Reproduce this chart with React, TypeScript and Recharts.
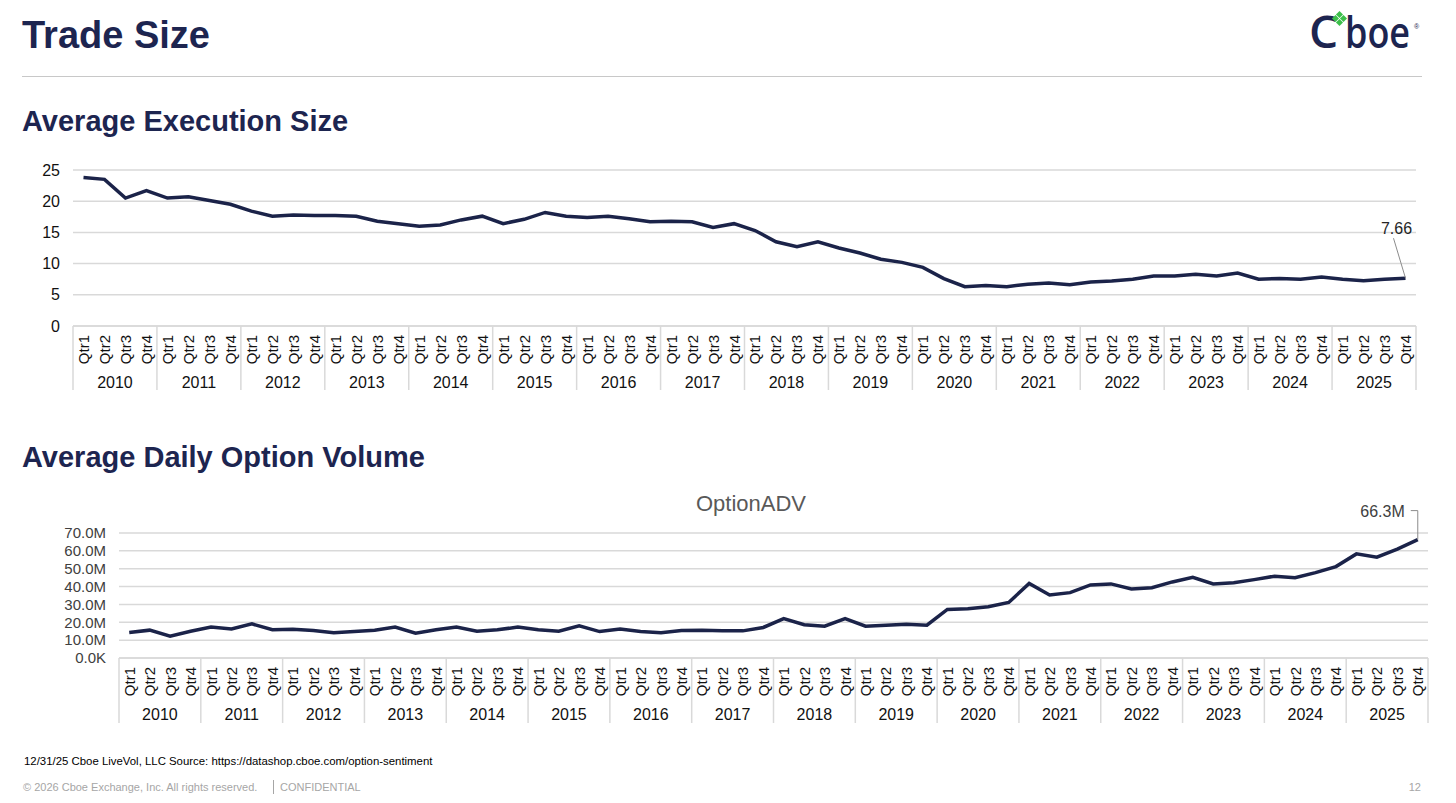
import React from "react";
import {
  LineChart,
  Line,
  XAxis,
  YAxis,
  CartesianGrid,
} from "recharts";

const quarters = ["Qtr1", "Qtr2", "Qtr3", "Qtr4"];
const years = [
  "2010", "2011", "2012", "2013", "2014", "2015", "2016", "2017",
  "2018", "2019", "2020", "2021", "2022", "2023", "2024", "2025",
];

// average execution size (contracts), one value per quarter
const execSize = [
  23.8, 23.5, 20.5, 21.7,
  20.5, 20.7, 20.1, 19.5,
  18.4, 17.6, 17.8, 17.7,
  17.7, 17.6, 16.8, 16.4,
  16.0, 16.2, 17.0, 17.6,
  16.4, 17.1, 18.2, 17.6,
  17.4, 17.6, 17.2, 16.7,
  16.8, 16.7, 15.8, 16.4,
  15.3, 13.5, 12.7, 13.5,
  12.5, 11.7, 10.7, 10.2,
  9.4, 7.6, 6.3, 6.5,
  6.3, 6.7, 6.9, 6.6,
  7.05, 7.2, 7.5, 8.0,
  8.0, 8.3, 8.0, 8.5,
  7.5, 7.6, 7.5, 7.85,
  7.5, 7.27, 7.5, 7.66,
];

// option ADV in millions of contracts
const optionAdv = [
  14.3, 15.6, 12.2, 15.0,
  17.3, 16.3, 19.1, 15.8,
  16.1, 15.4, 14.1, 14.8,
  15.6, 17.3, 13.9, 15.8,
  17.3, 15.0, 15.8, 17.3,
  15.8, 15.0, 18.0, 14.8,
  16.3, 14.8, 14.1, 15.4,
  15.6, 15.2, 15.2, 17.1,
  22.1, 18.6, 17.8, 22.1,
  17.8, 18.4, 18.9, 18.4,
  27.2, 27.6, 28.7, 31.1,
  41.8, 35.3, 36.6, 40.9,
  41.5, 38.6, 39.4, 42.6,
  45.2, 41.5, 42.2, 43.9,
  45.8, 45.0, 47.8, 51.2,
  58.3, 56.5, 61.0, 66.3,
];

const sizeTicks = [0, 5, 10, 15, 20, 25];
const advTicks = [0, 10, 20, 30, 40, 50, 60, 70];

const data = years.flatMap((yr, yi) =>
  quarters.map((q, qi) => ({
    key: `${yr} ${q}`,
    size: execSize[yi * 4 + qi],
    adv: optionAdv[yi * 4 + qi],
  }))
);

const FONT = "'Liberation Sans', Arial, sans-serif";
const NAVY = "#1d2550";
const LINE = "#1b2349";
const GRID = "#d9d9d9";
const N = data.length;

// plot extents
const TOP = { left: 73, right: 1416 };
const BOT = { left: 119, right: 1428 };

const QtrTick = (props: any) => {
  const { x, y, payload, bw, h } = props;
  const i = payload.index;
  const q = quarters[i % 4];
  const yr = years[Math.floor(i / 4)];
  return (
    <g>
      <text
        x={0}
        y={0}
        transform={`translate(${x},${y + 9}) rotate(-90)`}
        textAnchor="end"
        dominantBaseline="central"
        fontSize={15}
        fontFamily={FONT}
        fill="#111"
      >
        {q}
      </text>
      {i % 4 === 0 && (
        <line x1={x - bw / 2} x2={x - bw / 2} y1={y} y2={y + h} stroke={GRID} strokeWidth={1.5} />
      )}
      {i === N - 1 && (
        <line x1={x + bw / 2} x2={x + bw / 2} y1={y} y2={y + h} stroke={GRID} strokeWidth={1.5} />
      )}
      {i % 4 === 1 && (
        <text
          x={x + bw / 2}
          y={y + 56}
          textAnchor="middle"
          dominantBaseline="central"
          fontSize={16}
          fontFamily={FONT}
          fill="#111"
        >
          {yr}
        </text>
      )}
    </g>
  );
};

const SizeLabel = (props: any) => {
  const { x, y, index } = props;
  if (index !== N - 1) return <g />;
  return (
    <g>
      <line x1={x - 12} y1={y - 40} x2={x} y2={y} stroke="#8c8c8c" strokeWidth={1} />
      <text
        x={x - 9}
        y={y - 50}
        textAnchor="middle"
        dominantBaseline="central"
        fontSize={16}
        fontFamily={FONT}
        fill="#262626"
      >
        {execSize[N - 1].toFixed(2)}
      </text>
    </g>
  );
};

const AdvLabel = (props: any) => {
  const { x, y, index } = props;
  if (index !== N - 1) return <g />;
  return (
    <g>
      <polyline
        points={`${x - 7},${y - 29} ${x},${y - 29} ${x},${y}`}
        fill="none"
        stroke="#8c8c8c"
        strokeWidth={1}
      />
      <text
        x={x - 13}
        y={y - 28}
        textAnchor="end"
        dominantBaseline="central"
        fontSize={16}
        fontFamily={FONT}
        fill="#404040"
      >
        {`${optionAdv[N - 1].toFixed(1)}M`}
      </text>
    </g>
  );
};

const advFmt = (v: number) => (v === 0 ? "0.0K" : `${v.toFixed(1)}M`);

const CboeLogo = () => (
  <svg width={160} height={64} style={{ position: "absolute", left: 1290, top: 0 }}>
    <text x={19} y={48} fontSize={46} fontWeight={600} fontFamily="'Open Sans', sans-serif" fill={NAVY}>
      C
    </text>
    <text
      transform="translate(55,48) scale(1,1.22)"
      fontSize={36}
      fontWeight={600}
      fontFamily="'Open Sans', sans-serif"
      fill={NAVY}
    >
      boe
    </text>
    <g fill="#3cbf4a">
      <rect x={47} y={12} width={5} height={5} transform="rotate(45 49.5 14.5)" />
      <rect x={43} y={16} width={5} height={5} transform="rotate(45 45.5 18.5)" />
      <rect x={51} y={16} width={5} height={5} transform="rotate(45 53.5 18.5)" />
      <rect x={47} y={20} width={5} height={5} transform="rotate(45 49.5 22.5)" />
    </g>
    <text x={124} y={29} fontSize={7} fontFamily={FONT} fill={NAVY}>
      ®
    </text>
  </svg>
);

export default function App() {
  const bw1 = (TOP.right - TOP.left) / N;
  const bw2 = (BOT.right - BOT.left) / N;
  return (
    <div
      style={{
        position: "absolute",
        left: 0,
        top: 0,
        width: 1456,
        height: 803,
        background: "#fff",
        overflow: "hidden",
        fontFamily: FONT,
      }}
    >
      <svg width={1456} height={803} style={{ position: "absolute", left: 0, top: 0 }}>
        <text x={22} y={48} fontSize={38} fontWeight={700} fontFamily={FONT} fill={NAVY}>
          Trade Size
        </text>
        <line x1={22} x2={1422} y1={76.5} y2={76.5} stroke="#c8c8c8" strokeWidth={1} />
        <text x={22} y={131} fontSize={29} fontWeight={700} fontFamily={FONT} fill={NAVY}>
          Average Execution Size
        </text>
        <text x={22} y={467} fontSize={29} fontWeight={700} fontFamily={FONT} fill={NAVY}>
          Average Daily Option Volume
        </text>
        <text x={751} y={511} textAnchor="middle" fontSize={22} fontFamily={FONT} fill="#595959">
          OptionADV
        </text>
        <text x={24} y={765} fontSize={11.4} fontFamily={FONT} fill="#000">
          12/31/25 Cboe LiveVol, LLC Source: https://datashop.cboe.com/option-sentiment
        </text>
        <text x={23} y={791} fontSize={11} fontFamily={FONT} fill="#a6a6a6">
          © 2026 Cboe Exchange, Inc. All rights reserved.
        </text>
        <line x1={273.5} x2={273.5} y1={780} y2={794} stroke="#a6a6a6" strokeWidth={1} />
        <text x={280} y={791} fontSize={11} fontFamily={FONT} fill="#a6a6a6">
          CONFIDENTIAL
        </text>
        <text x={1421} y={791} textAnchor="end" fontSize={11} fontFamily={FONT} fill="#a6a6a6">
          12
        </text>
      </svg>

      <CboeLogo />

      <div style={{ position: "absolute", left: 0, top: 150 }}>
        <LineChart
          width={1456}
          height={250}
          data={data}
          margin={{ top: 20, right: 1456 - TOP.right, bottom: 10, left: 13 }}
        >
          <CartesianGrid vertical={false} stroke={GRID} strokeWidth={1.5} />
          <XAxis
            dataKey="key"
            scale="band"
            interval={0}
            height={64}
            tickLine={false}
            tickSize={0}
            tickMargin={0}
            axisLine={{ stroke: GRID, strokeWidth: 1.5 }}
            tick={(p: any) => <QtrTick {...p} bw={bw1} h={64} />}
          />
          <YAxis
            width={60}
            domain={[0, 25]}
            ticks={sizeTicks}
            interval={0}
            axisLine={false}
            tickLine={false}
            tickSize={0}
            tickMargin={13}
            tick={{ fontSize: 16, fontFamily: FONT, fill: "#111" }}
          />
          <Line
            type="linear"
            dataKey="size"
            stroke={LINE}
            strokeWidth={3.5}
            dot={false}
            isAnimationActive={false}
            label={SizeLabel}
          />
        </LineChart>
      </div>

      <div style={{ position: "absolute", left: 0, top: 480 }}>
        <LineChart
          width={1456}
          height={250}
          data={data}
          margin={{ top: 53, right: 1456 - BOT.right, bottom: 7, left: 0 }}
        >
          <CartesianGrid vertical={false} stroke={GRID} strokeWidth={1.5} />
          <XAxis
            dataKey="key"
            scale="band"
            interval={0}
            height={65}
            tickLine={false}
            tickSize={0}
            tickMargin={0}
            axisLine={{ stroke: GRID, strokeWidth: 1.5 }}
            tick={(p: any) => <QtrTick {...p} bw={bw2} h={65} />}
          />
          <YAxis
            width={BOT.left}
            domain={[0, 70]}
            ticks={advTicks}
            interval={0}
            tickFormatter={advFmt}
            axisLine={false}
            tickLine={false}
            tickSize={0}
            tickMargin={13}
            tick={{ fontSize: 15, fontFamily: FONT, fill: "#404040" }}
          />
          <Line
            type="linear"
            dataKey="adv"
            stroke={LINE}
            strokeWidth={3.5}
            dot={false}
            isAnimationActive={false}
            label={AdvLabel}
          />
        </LineChart>
      </div>
    </div>
  );
}
